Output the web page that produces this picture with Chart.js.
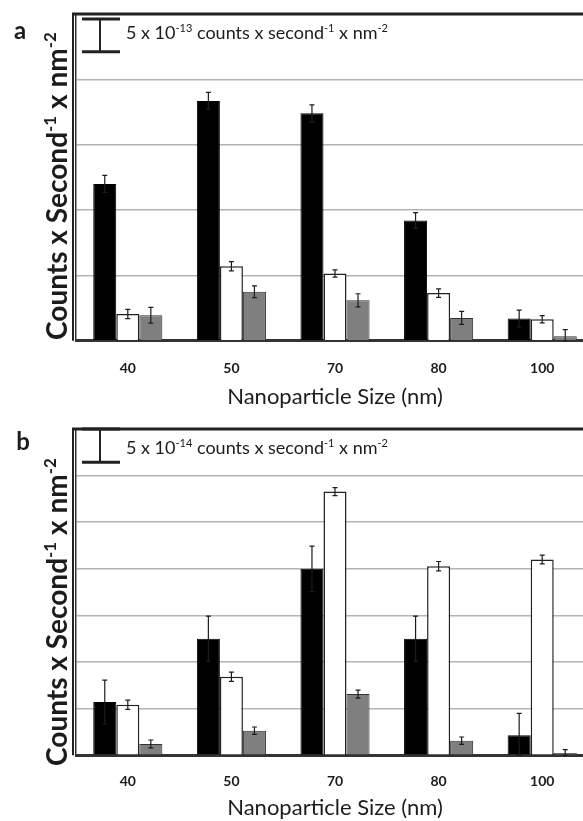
<!DOCTYPE html>
<html>
<head>
<meta charset="utf-8">
<script src="https://cdn.jsdelivr.net/npm/chart.js@4"></script>
<style>
  html, body { margin: 0; padding: 0; background: #fff; overflow: hidden; }
  .panel { width: 600px; }
  canvas { display: block; }
</style>
</head>
<body>
<div class="panel"><canvas id="chartA" width="600" height="415"></canvas></div>
<div class="panel"><canvas id="chartB" width="600" height="406"></canvas></div>
<script>
// Nanoparticle sizes (nm)
const sizes = ['40', '50', '70', '80', '100'];

// Panel a, in units of 1e-13 counts / s / nm^2
const aBlack = [24.0, 36.7, 34.8, 18.4, 3.4];
const aBlackErr = [1.3, 1.3, 1.3, 1.2, 1.3];
const aWhite = [4.1, 11.4, 10.3, 7.3, 3.3];
const aWhiteErr = [0.7, 0.7, 0.55, 0.65, 0.55];
const aGray = [3.9, 7.5, 6.2, 3.5, 0.7];
const aGrayErr = [1.2, 0.9, 1.0, 1.0, 1.0];

// Panel b, in units of 1e-14 counts / s / nm^2
const bBlack = [8.0, 17.5, 28.0, 17.5, 3.0];
const bBlackErr = [3.3, 3.4, 3.4, 3.4, 3.3];
const bWhite = [7.6, 11.8, 39.6, 28.4, 29.4];
const bWhiteErr = [0.7, 0.7, 0.6, 0.7, 0.65];
const bGray = [1.7, 3.7, 9.2, 2.2, 0.35];
const bGrayErr = [0.6, 0.55, 0.6, 0.55, 0.5];

const FONT = 'Lato, "Open Sans", sans-serif';
const INK = '#1c1c1c';

// text with superscript pieces, parts = [[text, isSup], ...]
function richWidth(ctx, parts, size, weight) {
  let w = 0;
  for (const [t, sup] of parts) {
    ctx.font = `${weight} ${sup ? Math.round(size * 0.62) : size}px ${FONT}`;
    w += ctx.measureText(t).width;
  }
  return w;
}

function drawRich(ctx, parts, x, y, size, weight) {
  let cx = x;
  for (const [t, sup] of parts) {
    const fs = sup ? Math.round(size * 0.62) : size;
    ctx.font = `${weight} ${fs}px ${FONT}`;
    ctx.fillText(t, cx, sup ? y - size * 0.4 : y);
    cx += ctx.measureText(t).width;
  }
}

// error bars on top of every bar
const errorBars = {
  id: 'errorBars',
  afterDatasetsDraw(chart) {
    const ctx = chart.ctx;
    const y = chart.scales.y;
    ctx.save();
    ctx.strokeStyle = INK;
    ctx.lineWidth = 1.2;
    chart.data.datasets.forEach((ds, i) => {
      const meta = chart.getDatasetMeta(i);
      meta.data.forEach((bar, j) => {
        const v = ds.data[j];
        const e = ds.errors[j];
        const top = y.getPixelForValue(v + e);
        const bot = y.getPixelForValue(Math.max(0, v - e));
        ctx.beginPath();
        ctx.moveTo(bar.x, top);
        ctx.lineTo(bar.x, bot);
        ctx.moveTo(bar.x - 2.5, top);
        ctx.lineTo(bar.x + 2.5, top);
        ctx.moveTo(bar.x - 2.5, bot);
        ctx.lineTo(bar.x + 2.5, bot);
        ctx.stroke();
      });
    });
    ctx.restore();
  }
};

// frame, scale bar, panel letter and y title
const decor = {
  id: 'decor',
  afterDraw(chart, args, opts) {
    const ctx = chart.ctx;
    const area = chart.chartArea;
    const y = chart.scales.y;
    ctx.save();

    // box around the plot
    ctx.strokeStyle = '#222';
    ctx.lineWidth = 3;
    ctx.beginPath();
    ctx.moveTo(72, area.top);
    ctx.lineTo(chart.width, area.top);
    ctx.stroke();
    ctx.lineWidth = 2;
    ctx.beginPath();
    ctx.moveTo(73, area.top);
    ctx.lineTo(73, area.bottom);
    ctx.stroke();

    // scale bar worth opts.scaleValue
    const len = y.getPixelForValue(0) - y.getPixelForValue(opts.scaleValue);
    const t = area.top + opts.scaleTop;
    ctx.lineWidth = 3;
    ctx.beginPath();
    ctx.moveTo(82, t); ctx.lineTo(120, t);
    ctx.moveTo(82, t + len); ctx.lineTo(120, t + len);
    ctx.stroke();
    ctx.lineWidth = 2;
    ctx.beginPath();
    ctx.moveTo(100, t); ctx.lineTo(100, t + len);
    ctx.stroke();

    ctx.fillStyle = INK;
    ctx.textBaseline = 'alphabetic';
    drawRich(ctx, [['5 x 10', false], [opts.exponent, true], [' counts x second', false],
      ['-1', true], [' x nm', false], ['-2', true]], 126, area.top + 25, 18, 'normal');

    // panel letter
    ctx.font = `bold 24px ${FONT}`;
    ctx.textAlign = 'center';
    ctx.textBaseline = 'middle';
    ctx.fillText(opts.letter, opts.letterX, opts.letterY);

    // rotated y title
    const parts = [['Counts x Second', false], ['-1', true], [' x nm', false], ['-2', true]];
    ctx.textAlign = 'left';
    ctx.textBaseline = 'alphabetic';
    const w = richWidth(ctx, parts, 28, 'bold');
    ctx.translate(67, opts.titleY);
    ctx.rotate(-Math.PI / 2);
    drawRich(ctx, parts, -w / 2, 0, 28, 'bold');
    ctx.restore();
  }
};

function makeChart(id, black, blackErr, white, whiteErr, gray, grayErr, yMax, yStep, decorOpts, pad) {
  return new Chart(document.getElementById(id), {
    type: 'bar',
    data: {
      labels: sizes,
      datasets: [
        { data: black, errors: blackErr, backgroundColor: '#000', borderColor: '#000', borderWidth: 1 },
        { data: white, errors: whiteErr, backgroundColor: '#fff', borderColor: '#222', borderWidth: 1.5 },
        { data: gray, errors: grayErr, backgroundColor: '#7f7f7f', borderColor: '#333', borderWidth: 1 }
      ]
    },
    options: {
      responsive: false,
      animation: false,
      events: [],
      layout: { padding: { left: 76, right: 6, top: 14, bottom: pad.bottom } },
      datasets: { bar: { barPercentage: 1, categoryPercentage: 0.667 } },
      plugins: {
        legend: { display: false },
        tooltip: { enabled: false },
        decor: decorOpts
      },
      scales: {
        x: {
          grid: { display: false, drawTicks: false },
          border: { color: '#333', width: 3 },
          ticks: { padding: pad.ticks, color: INK, font: { family: FONT, weight: 'bold', size: 14 } },
          title: {
            display: true,
            text: 'Nanoparticle Size (nm)',
            color: INK,
            font: { family: FONT, size: 22 },
            // tick padding is counted above and below the labels, pull the title back up
            padding: { top: pad.title, bottom: 0 }
          }
        },
        y: {
          min: 0,
          max: yMax,
          ticks: { display: false, stepSize: yStep },
          grid: { color: '#b4b4b4', lineWidth: 1.5, drawTicks: false },
          border: { color: '#333', width: 1.5 }
        }
      }
    },
    plugins: [errorBars, decor]
  });
}

makeChart('chartA', aBlack, aBlackErr, aWhite, aWhiteErr, aGray, aGrayErr, 50, 10,
  { letter: 'a', letterX: 20, letterY: 31, scaleValue: 5, scaleTop: 5, exponent: '-13', titleY: 186 },
  { ticks: 19, title: -12, bottom: 5 });

makeChart('chartB', bBlack, bBlackErr, bWhite, bWhiteErr, bGray, bGrayErr, 49, 7,
  { letter: 'b', letterX: 23, letterY: 27, scaleValue: 5, scaleTop: 0, exponent: '-14', titleY: 197 },
  { ticks: 18, title: -13.5, bottom: 0 });
</script>
</body>
</html>
